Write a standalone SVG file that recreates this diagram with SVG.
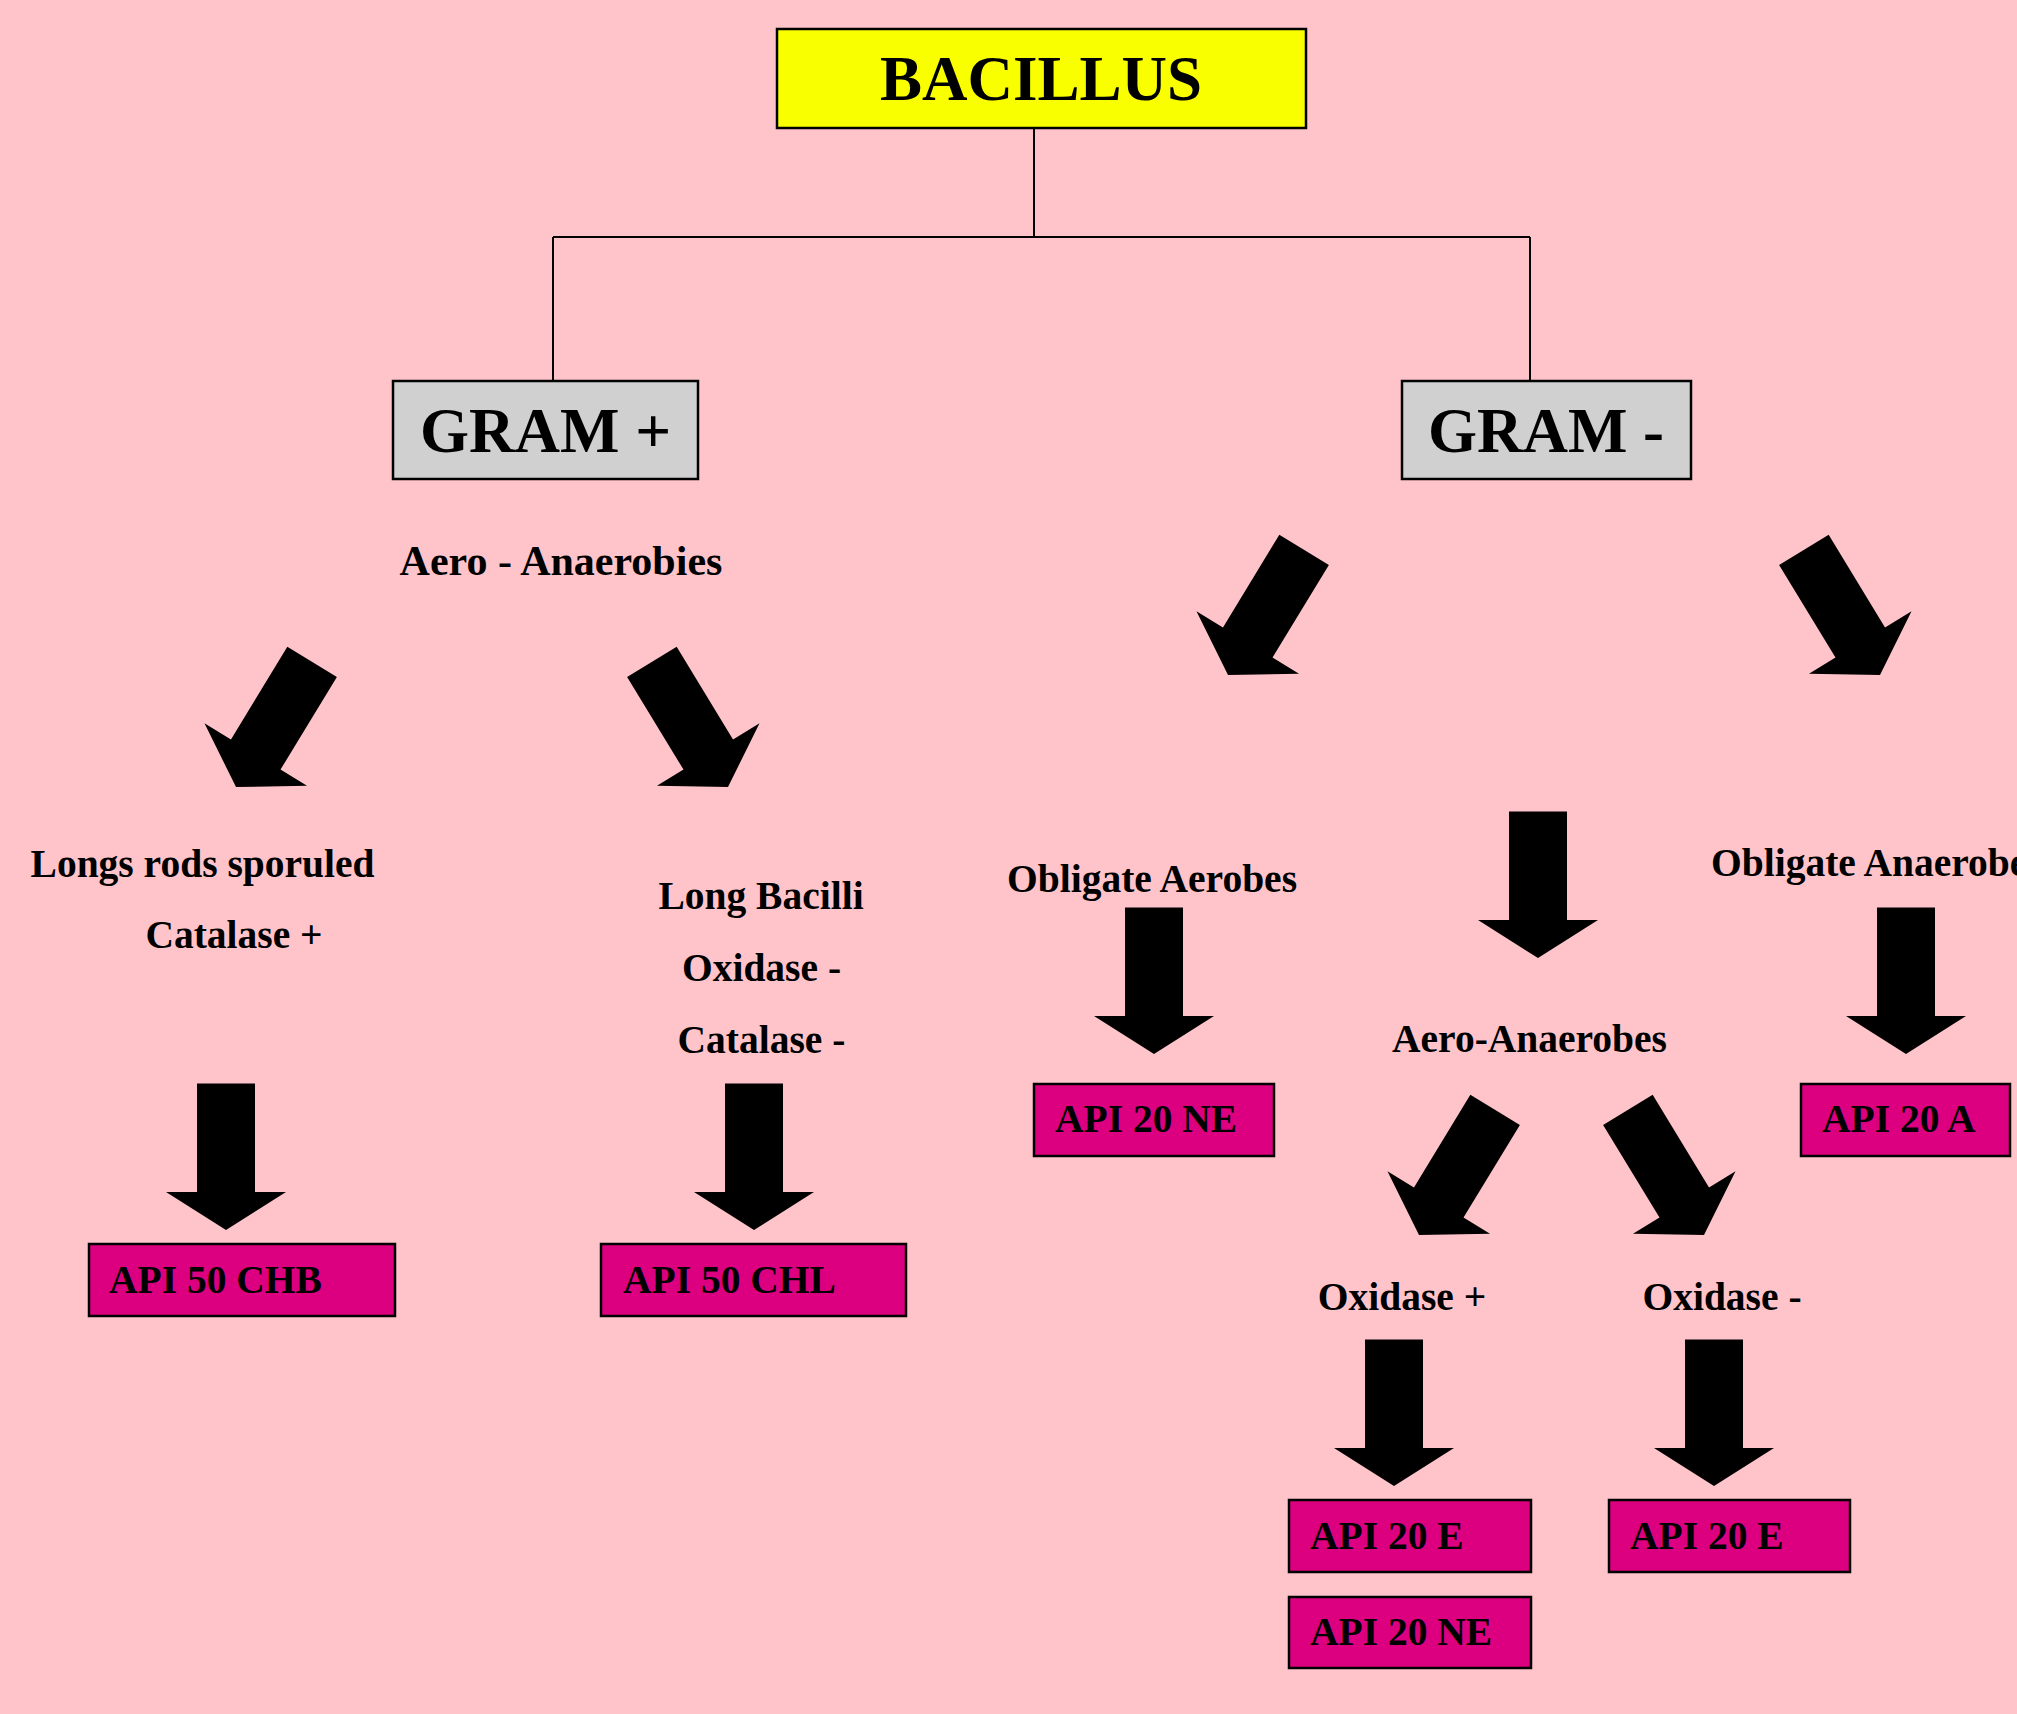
<svg xmlns="http://www.w3.org/2000/svg" xmlns:xlink="http://www.w3.org/1999/xlink" width="2017" height="1714" viewBox="0 0 2017 1714">
<style>
text{font-family:"Liberation Serif","Times New Roman",serif;font-weight:bold;fill:#000}
.title{font-size:63px;text-anchor:middle}
.lbl{font-size:39.5px;text-anchor:middle}
.api{font-size:39.5px}
.api-box{fill:#DC0080;stroke:#000;stroke-width:2.5}
.gray{fill:#D0D0D0;stroke:#000;stroke-width:2.5}
.conn line{stroke:#000;stroke-width:2}
</style>
<defs>
<path id="arr" d="M-29,-146.5 L29,-146.5 L29,-38 L60,-38 L0,0 L-60,-38 L-29,-38 Z" fill="#000"/>
</defs>
<rect x="0" y="0" width="2017" height="1714" fill="#FFC4CA"/>

<g id="connectors" class="conn">
<line x1="1034" y1="128" x2="1034" y2="237"/>
<line x1="553" y1="237" x2="1530" y2="237"/>
<line x1="553" y1="237" x2="553" y2="381"/>
<line x1="1530" y1="237" x2="1530" y2="381"/>
</g>

<g id="arrows">
<use xlink:href="#arr" transform="translate(236,787) rotate(31.3)"/>
<use xlink:href="#arr" transform="translate(728,787) rotate(-31.3)"/>
<use xlink:href="#arr" transform="translate(1228,675) rotate(31.3)"/>
<use xlink:href="#arr" transform="translate(1880,675) rotate(-31.3)"/>
<use xlink:href="#arr" transform="translate(1419,1235) rotate(31.3)"/>
<use xlink:href="#arr" transform="translate(1704,1235) rotate(-31.3)"/>
<use xlink:href="#arr" transform="translate(226,1230)"/>
<use xlink:href="#arr" transform="translate(754,1230)"/>
<use xlink:href="#arr" transform="translate(1154,1054)"/>
<use xlink:href="#arr" transform="translate(1538,958)"/>
<use xlink:href="#arr" transform="translate(1906,1054)"/>
<use xlink:href="#arr" transform="translate(1394,1486)"/>
<use xlink:href="#arr" transform="translate(1714,1486)"/>
</g>

<g id="bacillus">
<rect x="777" y="29" width="529" height="99" fill="#FAFF00" stroke="#000" stroke-width="2.5"/>
<text class="title" x="1041" y="100">BACILLUS</text>
</g>
<g id="gram-pos">
<rect class="gray" x="393" y="381" width="305" height="98"/>
<text class="title" x="545.5" y="452">GRAM +</text>
</g>
<g id="gram-neg">
<rect class="gray" x="1402" y="381" width="289" height="98"/>
<text class="title" x="1546" y="452">GRAM -</text>
</g>

<g id="aero-anaerobies"><text class="lbl" x="561" y="575" style="font-size:42px">Aero - Anaerobies</text></g>
<g id="long-rods">
<text class="lbl" x="202.5" y="877">Longs rods sporuled</text>
<text class="lbl" x="234" y="948">Catalase +</text>
</g>
<g id="long-bacilli">
<text class="lbl" x="761" y="909">Long Bacilli</text>
<text class="lbl" x="761.5" y="981">Oxidase -</text>
<text class="lbl" x="761.5" y="1053">Catalase -</text>
</g>
<g id="obligate-aerobes"><text class="lbl" x="1152" y="892">Obligate Aerobes</text></g>
<g id="obligate-anaerobes"><text class="api" x="1711" y="876">Obligate Anaerobes</text></g>
<g id="aero-anaerobes"><text class="lbl" x="1529.5" y="1052">Aero-Anaerobes</text></g>
<g id="oxidase-pos"><text class="lbl" x="1402" y="1310">Oxidase +</text></g>
<g id="oxidase-neg"><text class="lbl" x="1722" y="1310">Oxidase -</text></g>

<g id="api50chb">
<rect class="api-box" x="89" y="1244" width="306" height="72"/>
<text class="api" x="109" y="1293">API 50 CHB</text>
</g>
<g id="api50chl">
<rect class="api-box" x="601" y="1244" width="305" height="72"/>
<text class="api" x="623" y="1293">API 50 CHL</text>
</g>
<g id="api20ne-a">
<rect class="api-box" x="1034" y="1084" width="240" height="72"/>
<text class="api" x="1055" y="1132">API 20 NE</text>
</g>
<g id="api20a">
<rect class="api-box" x="1801" y="1084" width="209" height="72"/>
<text class="api" x="1822" y="1132">API 20 A</text>
</g>
<g id="api20e-a">
<rect class="api-box" x="1289" y="1500" width="242" height="72"/>
<text class="api" x="1310" y="1549">API 20 E</text>
</g>
<g id="api20ne-b">
<rect class="api-box" x="1289" y="1597" width="242" height="71"/>
<text class="api" x="1310" y="1645">API 20 NE</text>
</g>
<g id="api20e-b">
<rect class="api-box" x="1609" y="1500" width="241" height="72"/>
<text class="api" x="1630" y="1549">API 20 E</text>
</g>
</svg>
